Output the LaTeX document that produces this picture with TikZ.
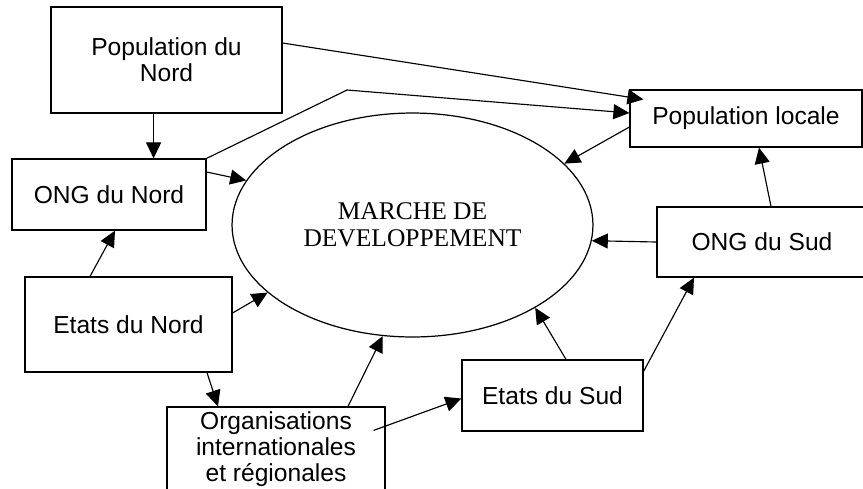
\documentclass[tikz,border=0pt]{standalone}
\usepackage{fontspec}
\setmainfont{Liberation Sans}
\newfontfamily\serifmarche{Liberation Serif}
\usetikzlibrary{shapes.geometric,arrows.meta,calc}

\begin{document}
\begin{tikzpicture}[x=0.02cm,y=-0.02cm,
        boite/.style={draw,line width=0.7pt,align=center,inner sep=0pt,font=\fontsize{14}{14.8}\selectfont},
        fleche/.style={-{Triangle[length=0.32cm,width=0.3cm]},line width=0.65pt}]
            \useasboundingbox (0,0) rectangle (863,488);
            \clip (0,0) rectangle (863,488);

            \node[draw,ellipse,line width=0.7pt,inner sep=0pt,minimum width=7.22cm,minimum height=4.48cm,align=center,
                font=\serifmarche\fontsize{14.5}{15.3}\selectfont] (marche) at (412.5,225) {MARCHE DE\\DEVELOPPEMENT};

            \node[boite,minimum width=4.62cm,minimum height=2.12cm] (popnord) at (166.5,60) {Population du\\Nord};
            \node[boite,minimum width=3.88cm,minimum height=1.42cm] (ongnord) at (109,194.5) {ONG du Nord};
            \node[boite,minimum width=4.64cm,minimum height=1.14cm] (poploc) at (746,118.5) {Population locale};
            \node[boite,minimum width=4.2cm,minimum height=1.4cm] (ongsud) at (762,242) {ONG du Sud};
            \node[boite,minimum width=4.14cm,minimum height=1.9cm] (etatsnord) at (128.5,324.5) {Etats du Nord};
            \node[boite,minimum width=4.36cm,minimum height=1.7cm] (orgs) at (276,449.5) {Organisations\\internationales\\et régionales};
            \node[boite,minimum width=3.62cm,minimum height=1.42cm] (etatssud) at (552.5,395.5) {Etats du Sud};

            \coordinate (coude) at (347,90);

            % Nord
            \draw[fleche] (ongnord.39.5 |- popnord.south) -- (ongnord.39.5);
            \draw[fleche] ($(popnord.east)+(0,-17)$) -- ($(poploc.north west)+(14,10)$);
            \draw[fleche] (ongnord.north east) -- (coude) -- ($(poploc.west)+(0,-5.5)$);
            \draw[fleche] ($(ongnord.east)+(0,-22.5)$) -- (marche.165.2);
            \draw[fleche] ($(etatsnord.north)+(-38.5,0)$) -- ($(ongnord.south)+(6,0)$);
            \draw[fleche] ($(etatsnord.east)+(0,-11.5)$) -- (marche.205.6);
            \draw[fleche] ($(etatsnord.south)+(78.5,0)$) -- ($(orgs.north)+(-58,0)$);
            \draw[fleche] ($(orgs.north)+(72,0)$) -- (marche.255.4);
            \draw[fleche] ($(orgs.north east)+(-12,24)$) -- ($(etatssud.west)+(0,3)$);

            % Sud
            \draw[fleche] ($(poploc.west)+(0,8.5)$) -- (marche.22.6);
            \draw[fleche] ($(ongsud.north)+(9,0)$) -- ($(poploc.south)+(13,0)$);
            \draw[fleche] (ongsud.west) -- (marche.-5.3);
            \draw[fleche] ($(etatssud.north)+(13.5,0)$) -- (marche.-34.6);
            \draw[fleche] ($(etatssud.north east)+(0,12)$) -- ($(ongsud.south)+(-68,0)$);
        \end{tikzpicture}
\end{document}
